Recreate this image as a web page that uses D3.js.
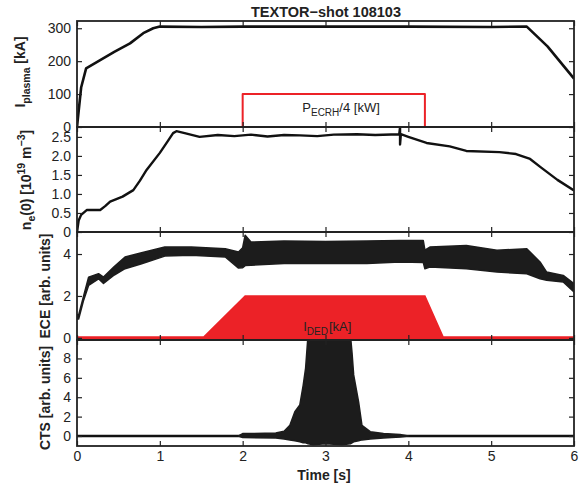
<!DOCTYPE html>
<html>
<head>
<meta charset="utf-8">
<script src="https://cdn.jsdelivr.net/npm/d3@7"></script>
<style>
  body { margin: 0; background: #fff; }
  text { font-family: "Liberation Sans", Arial, Helvetica, sans-serif; }
</style>
</head>
<body>
<svg id="chart" width="582" height="485"></svg>
<script>
// time axis
var timeTicks = [0, 1, 2, 3, 4, 5, 6];

// plasma current [kA]
var ipTime = [0, 0.05, 0.11, 0.28, 0.45, 0.64, 0.8, 0.92, 1.0, 1.5, 2.0, 3.0, 4.0, 5.0, 5.43, 5.68, 6.0];
var ipValue = [0, 120, 178, 203, 228, 254, 285, 300, 305, 304, 305, 305, 305, 304, 305, 245, 147];

// ECRH power / 4 [kW]
var ecrhTime = [2.0, 2.0, 4.2, 4.2];
var ecrhValue = [0, 100, 100, 0];

// central density [1e19 m^-3]
var neTime = [0, 0.02, 0.05, 0.12, 0.28, 0.34, 0.4, 0.55, 0.68, 0.76, 0.84, 1.0, 1.1, 1.16, 1.2, 1.3, 1.48, 1.7, 1.9, 2.1, 2.3, 2.5, 2.69, 2.9, 3.1, 3.38, 3.6, 3.89, 3.9, 3.9, 3.91, 4.0, 4.22, 4.5, 4.7, 5.1, 5.3, 5.47, 5.6, 5.8, 6.0];
var neValue = [0, 0.3, 0.45, 0.58, 0.58, 0.68, 0.8, 0.93, 1.1, 1.35, 1.63, 2.08, 2.4, 2.6, 2.65, 2.6, 2.5, 2.55, 2.52, 2.56, 2.51, 2.55, 2.54, 2.52, 2.56, 2.57, 2.55, 2.57, 2.75, 2.3, 2.57, 2.5, 2.34, 2.25, 2.13, 2.1, 2.05, 1.92, 1.7, 1.37, 1.09];

// ECE envelope [arb. units]
var eceTime = [0, 0.02, 0.08, 0.14, 0.26, 0.32, 0.45, 0.58, 0.78, 1.06, 1.38, 1.79, 1.95, 2.0, 2.03, 2.1, 2.5, 3.0, 3.5, 3.9, 4.18, 4.2, 4.26, 4.7, 5.07, 5.43, 5.59, 5.67, 5.87, 6.0];
var eceHigh = [1.1, 1.1, 2.0, 2.9, 3.06, 2.9, 3.4, 3.86, 4.06, 4.33, 4.33, 4.25, 4.1, 4.3, 4.9, 4.57, 4.62, 4.6, 4.62, 4.65, 4.65, 4.18, 4.33, 4.41, 4.18, 4.25, 3.62, 3.14, 2.98, 2.59];
var eceLow = [0.9, 0.9, 1.8, 2.5, 2.82, 2.6, 3.0, 3.3, 3.54, 3.9, 3.94, 3.86, 3.33, 3.35, 3.45, 3.47, 3.55, 3.55, 3.55, 3.62, 3.6, 3.3, 3.38, 3.3, 3.14, 3.06, 2.82, 2.75, 2.67, 2.19];

// DED current [kA]
var dedTime = [0, 1.53, 2.03, 4.2, 4.42, 6.0];
var dedValue = [0.04, 0.04, 2.0, 2.0, 0.04, 0.04];

// CTS envelope [arb. units]
var ctsTime = [1.95, 2.0, 2.4, 2.5, 2.57, 2.63, 2.69, 2.73, 2.76, 2.79, 2.85, 3.0, 3.2, 3.3, 3.32, 3.34, 3.4, 3.44, 3.54, 3.7, 3.9, 4.0];
var ctsHigh = [0, 0.25, 0.3, 0.5, 1.1, 2.5, 3.2, 5.2, 7.0, 10.5, 11, 11, 11, 10.5, 8.6, 6.3, 3.5, 1.1, 0.45, 0.25, 0.15, 0];
var ctsLow = [0, -0.15, -0.2, -0.3, -0.4, -0.5, -0.6, -0.7, -0.7, -0.8, -0.9, -0.8, -0.9, -0.8, -0.7, -0.6, -0.5, -0.4, -0.3, -0.2, -0.1, 0];
var ctsBaseTime = [0, 6];
var ctsBaseValue = [0, 0];

var red = '#ec2227';
var svg = d3.select('#chart');

var x = d3.scaleLinear().domain([0, 6]).range([77, 574]);

function makePanel(id, top, bottom, domain, ticks, fmt, last) {
  var y = d3.scaleLinear().domain(domain).range([bottom, top]);

  svg.append('clipPath').attr('id', 'clip-' + id)
    .append('rect')
    .attr('x', x(0)).attr('y', top)
    .attr('width', x(6) - x(0)).attr('height', bottom - top);

  var g = svg.append('g').attr('clip-path', 'url(#clip-' + id + ')');

  // axes with inward ticks
  var ax = svg.append('g').attr('class', 'axes');
  ax.append('g')
    .attr('transform', 'translate(0,' + top + ')')
    .call(d3.axisTop(x).tickValues(timeTicks).tickSize(-5).tickFormat(''));
  ax.append('g')
    .attr('transform', 'translate(0,' + bottom + ')')
    .call(d3.axisBottom(x).tickValues(timeTicks).tickSize(-5).tickPadding(5)
      .tickFormat(last ? d3.format('d') : ''));
  ax.append('g')
    .attr('transform', 'translate(' + x(0) + ',0)')
    .call(d3.axisLeft(y).tickValues(ticks).tickSize(-5).tickPadding(6).tickFormat(fmt));
  ax.append('g')
    .attr('transform', 'translate(' + x(6) + ',0)')
    .call(d3.axisRight(y).tickValues(ticks).tickSize(-5).tickFormat(''));

  ax.selectAll('.domain').remove();
  ax.selectAll('.tick line').attr('stroke', '#222').attr('stroke-width', 1.2);
  ax.selectAll('.tick text')
    .attr('font-size', 14)
    .attr('fill', '#222')
    .style('font-family', '"Liberation Sans", Arial, sans-serif');

  return { g: g, y: y, top: top, bottom: bottom };
}

function series(t, v) {
  return t.map(function(d, i) { return [d, v[i]]; });
}

function drawLine(p, t, v, color, width) {
  p.g.append('path')
    .datum(series(t, v))
    .attr('fill', 'none')
    .attr('stroke', color)
    .attr('stroke-width', width)
    .attr('stroke-linejoin', 'round')
    .attr('d', d3.line()
      .x(function(d) { return x(d[0]); })
      .y(function(d) { return p.y(d[1]); }));
}

function drawBand(p, t, hi, lo, color) {
  var data = t.map(function(d, i) { return { t: d, hi: hi[i], lo: lo[i] }; });
  p.g.append('path')
    .datum(data)
    .attr('fill', color)
    .attr('stroke', color)
    .attr('stroke-width', 1.5)
    .attr('stroke-linejoin', 'round')
    .attr('d', d3.area()
      .x(function(d) { return x(d.t); })
      .y0(function(d) { return p.y(d.lo); })
      .y1(function(d) { return p.y(d.hi); }));
}

var p1 = makePanel('ip', 21, 127, [0, 322], [0, 100, 200, 300], d3.format('d'), false);
var p2 = makePanel('ne', 127, 232, [0, 2.76], [0, 0.5, 1, 1.5, 2, 2.5],
  function(d) { return d === 0 ? '0' : d.toFixed(1); }, false);
var p3 = makePanel('ece', 232, 340, [-0.1, 5.05], [0, 2, 4], d3.format('d'), false);
var p4 = makePanel('cts', 340, 446, [-1.03, 9.9], [0, 2, 4, 6, 8], d3.format('d'), true);

// panel 1
drawLine(p1, ecrhTime, ecrhValue, red, 2);
drawLine(p1, ipTime, ipValue, '#111', 2.6);

// panel 2
drawLine(p2, neTime, neValue, '#111', 2.4);

// panel 3
var dedData = series(dedTime, dedValue);
p3.g.append('path')
  .datum(dedData)
  .attr('fill', red)
  .attr('stroke', red)
  .attr('stroke-width', 1.5)
  .attr('d', d3.area()
    .x(function(d) { return x(d[0]); })
    .y0(p3.y(-0.08))
    .y1(function(d) { return p3.y(d[1]); }));
drawBand(p3, eceTime, eceHigh, eceLow, '#1c1c1c');

// panel 4
drawLine(p4, ctsBaseTime, ctsBaseValue, '#111', 2.4);
drawBand(p4, ctsTime, ctsHigh, ctsLow, '#1c1c1c');

// frames
[p1, p2, p3, p4].forEach(function(p) {
  svg.append('rect')
    .attr('x', x(0)).attr('y', p.top)
    .attr('width', x(6) - x(0)).attr('height', p.bottom - p.top)
    .attr('fill', 'none')
    .attr('stroke', '#222')
    .attr('stroke-width', 1.8);
});

// in-plot labels
var ecrhLabel = svg.append('text')
  .attr('x', x(2.72)).attr('y', p1.y(45))
  .attr('font-size', 13).attr('fill', '#222');
ecrhLabel.append('tspan').text('P');
ecrhLabel.append('tspan').attr('font-size', 10).attr('dy', 4).text('ECRH');
ecrhLabel.append('tspan').attr('dy', -4).text('/4 [kW]');

var dedLabel = svg.append('text')
  .attr('x', x(2.73)).attr('y', p3.y(0.33))
  .attr('font-size', 13).attr('fill', '#222');
dedLabel.append('tspan').text('I');
dedLabel.append('tspan').attr('font-size', 10).attr('dy', 4).text('DED');
dedLabel.append('tspan').attr('dy', -4).attr('dx', 1).text('[kA]');

// title
svg.append('text')
  .attr('x', 326).attr('y', 17)
  .attr('text-anchor', 'middle')
  .attr('font-size', 14.5).attr('font-weight', 'bold').attr('fill', '#222')
  .text('TEXTOR\u2212shot 108103');

// x axis title
svg.append('text')
  .attr('x', 324).attr('y', 480)
  .attr('text-anchor', 'middle')
  .attr('font-size', 14).attr('font-weight', 'bold').attr('fill', '#222')
  .text('Time [s]');

// y axis titles
function yTitle(xPos, yPos, parts) {
  var t = svg.append('text')
    .attr('transform', 'translate(' + xPos + ',' + yPos + ') rotate(-90)')
    .attr('text-anchor', 'middle')
    .attr('font-size', 14).attr('font-weight', 'bold').attr('fill', '#222');
  parts.forEach(function(p) {
    var s = t.append('tspan').text(p.text);
    if (p.size) s.attr('font-size', p.size);
    if (p.dy) s.attr('dy', p.dy);
  });
}

yTitle(25, 72, [
  { text: 'I' },
  { text: 'plasma', size: 10.5, dy: 5 },
  { text: ' [kA]', dy: -5 }
]);
yTitle(31, 180, [
  { text: 'n' },
  { text: 'e', size: 10.5, dy: 4 },
  { text: '(0) [10', dy: -4 },
  { text: '19', size: 10.5, dy: -6 },
  { text: ' m', dy: 6 },
  { text: '\u22123', size: 10.5, dy: -6 },
  { text: ']', dy: 6 }
]);
yTitle(50, 286, [{ text: 'ECE [arb. units]' }]);
yTitle(50, 398, [{ text: 'CTS [arb. units]' }]);
</script>
</body>
</html>
